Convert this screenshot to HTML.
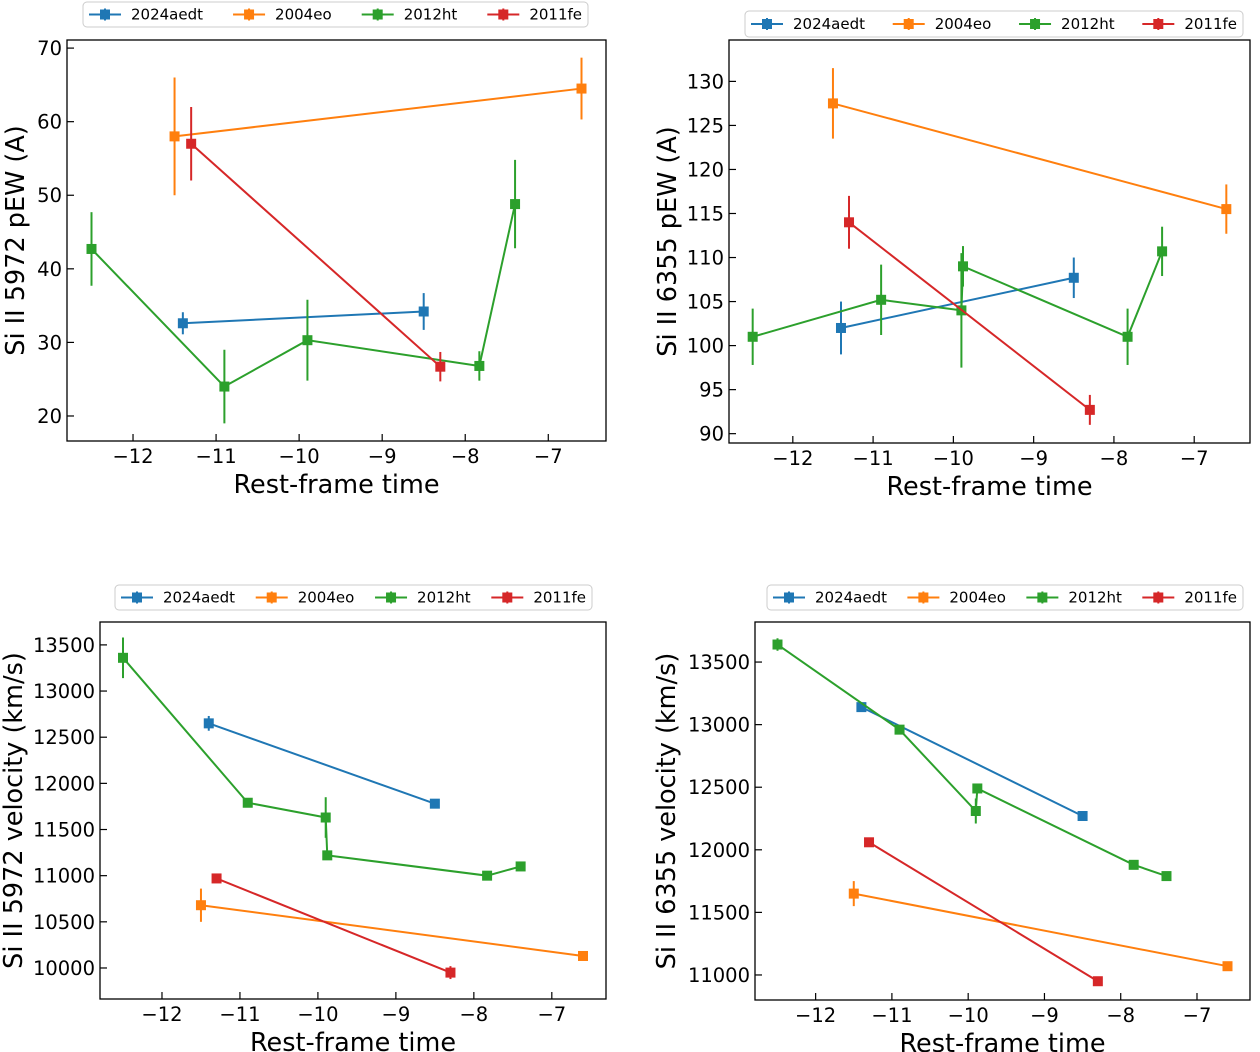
<!DOCTYPE html>
<html><head><meta charset="utf-8"><style>
html,body{margin:0;padding:0;background:#fff;}
svg{display:block;font-family:"DejaVu Sans","Liberation Sans",sans-serif;}
</style></head><body>
<svg id="fig" width="1260" height="1052" viewBox="0 0 1260 1052"></svg>
<script>
const seriesNames=["2024aedt","2004eo","2012ht","2011fe"];
const colors=["#1f77b4","#ff7f0e","#2ca02c","#d62728"];
const xTicks=[-12,-11,-10,-9,-8,-7];
// Panel 1: Si II 5972 pEW
const p1_2024aedt=[[-11.4,32.6,1.5],[-8.5,34.2,2.5]];
const p1_2004eo=[[-11.5,58,8],[-6.6,64.5,4.2]];
const p1_2012ht=[[-12.5,42.7,5],[-10.9,24,5],[-9.9,30.3,5.5],[-7.83,26.8,2],[-7.4,48.8,6]];
const p1_2011fe=[[-11.3,57,5],[-8.3,26.7,2]];
const p1_yTicks=[20,30,40,50,60,70];
// Panel 2: Si II 6355 pEW
const p2_2024aedt=[[-11.4,102,3],[-8.5,107.7,2.3]];
const p2_2004eo=[[-11.5,127.5,4],[-6.6,115.5,2.8]];
const p2_2012ht=[[-12.5,101,3.2],[-10.9,105.2,4],[-9.9,104,6.5],[-9.88,109,2.3],[-7.83,101,3.2],[-7.4,110.7,2.8]];
const p2_2011fe=[[-11.3,114,3],[-8.3,92.7,1.7]];
const p2_yTicks=[90,95,100,105,110,115,120,125,130];
// Panel 3: Si II 5972 velocity
const p3_2024aedt=[[-11.4,12650,80],[-8.5,11780,40]];
const p3_2004eo=[[-11.5,10680,180],[-6.6,10130,20]];
const p3_2012ht=[[-12.5,13360,220],[-10.9,11790,30],[-9.9,11630,220],[-9.88,11220,30],[-7.83,11000,30],[-7.4,11100,30]];
const p3_2011fe=[[-11.3,10970,30],[-8.3,9950,70]];
const p3_yTicks=[10000,10500,11000,11500,12000,12500,13000,13500];
// Panel 4: Si II 6355 velocity
const p4_2024aedt=[[-11.4,13140,30],[-8.5,12270,30]];
const p4_2004eo=[[-11.5,11650,100],[-6.6,11070,20]];
const p4_2012ht=[[-12.5,13640,50],[-10.9,12960,30],[-9.9,12310,100],[-9.88,12490,30],[-7.83,11880,30],[-7.4,11790,30]];
const p4_2011fe=[[-11.3,12060,30],[-8.3,10950,30]];
const p4_yTicks=[11000,11500,12000,12500,13000,13500];

const NS="http://www.w3.org/2000/svg";
const svg=document.getElementById("fig");
function mk(tag,attrs,parent){const e=document.createElementNS(NS,tag);for(const k in attrs)e.setAttribute(k,attrs[k]);(parent||svg).appendChild(e);return e;}

function panel(cfg){
  const g=mk("g",{});
  
  
  const {L,R,T,B,y0,y1}=cfg;
  const x0=-12.795,x1=-6.305;
  const sx=v=>L+(v-x0)/(x1-x0)*(R-L);
  const sy=v=>B-(v-y0)/(y1-y0)*(B-T);
  cfg.series.forEach((data,si)=>{
    const sg=mk("g",{},g);
    
    
    const c=colors[si];
    mk("polyline",{points:data.map(d=>sx(d[0])+","+sy(d[1])).join(" "),fill:"none",stroke:c,"stroke-width":2},sg);
    data.forEach(d=>{
      const ln=mk("line",{x1:sx(d[0]),x2:sx(d[0]),y1:sy(d[1]-d[2]),y2:sy(d[1]+d[2]),stroke:c,"stroke-width":2},sg);
      
      
      const r=mk("rect",{x:sx(d[0])-5,y:sy(d[1])-5,width:10,height:10,fill:c},sg);
      
      
    });
  });
  mk("rect",{x:L,y:T,width:R-L,height:B-T,fill:"none",stroke:"#000","stroke-width":1.3},g);
  xTicks.forEach(t=>{
    const x=sx(t);
    mk("line",{x1:x,x2:x,y1:B,y2:B-7,stroke:"#000","stroke-width":1.2},g);
    const tx=mk("text",{x:x,y:B+22,"font-size":19.5,"text-anchor":"middle"},g);
    tx.textContent="\u2212"+Math.abs(t);
    
    
  });
  cfg.yTicks.forEach(t=>{
    const y=sy(t);
    mk("line",{x1:L,x2:L+7,y1:y,y2:y,stroke:"#000","stroke-width":1.2},g);
    const tx=mk("text",{x:L-5,y:y+7,"font-size":19.5,"text-anchor":"end"},g);
    tx.textContent=t;
    
    
  });
  const xl=mk("text",{x:(L+R)/2,y:B+52,"font-size":25.5,"text-anchor":"middle"},g);
  xl.textContent="Rest-frame time";
  
  
  const yl=mk("text",{x:0,y:0,"font-size":25.5,"text-anchor":"middle",transform:`translate(${cfg.ylx},${(T+B)/2}) rotate(-90)`},g);
  yl.textContent=cfg.ylabel;
  
  
  // legend
  const lg=mk("g",{},g);
  
  
  const [lx0,lx1,ly0,ly1]=cfg.leg;
  mk("rect",{x:lx0,y:ly0,width:lx1-lx0,height:ly1-ly0,rx:4,fill:"#fff",stroke:"#ccc"},lg);
  const cy=(ly0+ly1)/2;
  const texts=[];
  let total=0;
  seriesNames.forEach((n,i)=>{
    const eg=mk("g",{},lg);
    
    
    const t=mk("text",{x:0,y:cy+5,"font-size":15},eg);
    t.textContent=n;
    const w=t.getComputedTextLength();
    texts.push([eg,t,w]);total+=w+42;
  });
  const gap=(lx1-lx0-12-total)/3;
  let ex=lx0+6;
  texts.forEach(([eg,t,w],i)=>{
    mk("line",{x1:ex,x2:ex+32,y1:cy,y2:cy,stroke:colors[i],"stroke-width":2},eg);
    mk("line",{x1:ex+16,x2:ex+16,y1:cy-6,y2:cy+6,stroke:colors[i],"stroke-width":2},eg);
    mk("rect",{x:ex+11,y:cy-5,width:10,height:10,fill:colors[i]},eg);
    t.setAttribute("x",ex+42);
    ex+=42+w+gap;
  });
}

panel({name:"panel-si5972-pew",L:67,R:606,T:40,B:441,y0:16.6,y1:71.1,yTicks:p1_yTicks,ylx:24,ylabel:"Si II 5972 pEW (A)",leg:[83,588,2,27],
  series:[p1_2024aedt,p1_2004eo,p1_2012ht,p1_2011fe]});
panel({name:"panel-si6355-pew",L:729,R:1250,T:40,B:443,y0:88.94,y1:134.7,yTicks:p2_yTicks,ylx:676,ylabel:"Si II 6355 pEW (A)",leg:[745,1243,11,37],
  series:[p2_2024aedt,p2_2004eo,p2_2012ht,p2_2011fe]});
panel({name:"panel-si5972-velocity",L:100,R:606,T:622,B:999,y0:9664,y1:13748,yTicks:p3_yTicks,ylx:22,ylabel:"Si II 5972 velocity (km/s)",leg:[115,592,585,610],
  series:[p3_2024aedt,p3_2004eo,p3_2012ht,p3_2011fe]});
panel({name:"panel-si6355-velocity",L:755,R:1250,T:622,B:1000,y0:10800,y1:13820,yTicks:p4_yTicks,ylx:675,ylabel:"Si II 6355 velocity (km/s)",leg:[767,1243,585,610],
  series:[p4_2024aedt,p4_2004eo,p4_2012ht,p4_2011fe]});
</script>
</body></html>
